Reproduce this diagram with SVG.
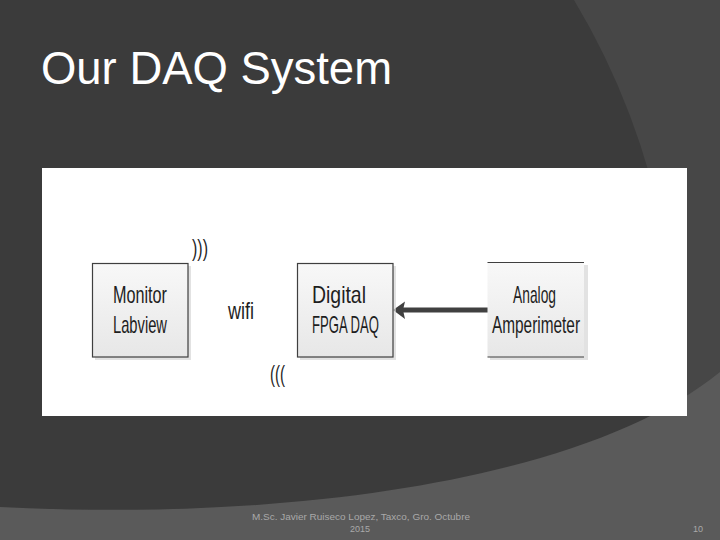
<svg xmlns="http://www.w3.org/2000/svg" width="720" height="540" viewBox="0 0 720 540">
  <defs>
    <linearGradient id="boxfill" x1="0" y1="0" x2="0" y2="1">
      <stop offset="0" stop-color="#f8f8f8"/>
      <stop offset="1" stop-color="#e7e7e7"/>
    </linearGradient>
    <style>
      .box { fill: url(#boxfill); }
      .edge { stroke: #3f3f3f; stroke-width: 1.2; fill: none; }
      .shadow { fill: #d6d6d6; opacity: 0.7; }
      .lbl { font-family: "Liberation Sans Narrow", "Liberation Sans", Arial, sans-serif; fill: #1e1e1e; font-size: 24px; }
      .foot { font-family: "Liberation Sans", Arial, sans-serif; fill: #a9a9a9; font-size: 9px; }
    </style>
  </defs>

  <!-- background -->
  <rect x="0" y="0" width="720" height="540" fill="#3b3b3b"/>
  <path d="M574,0 Q640,110 665,240 L700,540 L720,540 L720,0 Z" fill="#474747"/>
  <path d="M0,507 C300,522 590,478 720,372 L720,540 L0,540 Z" fill="#5a5a5a"/>

  <!-- title -->
  <text x="41" y="84" font-family="Liberation Sans, Arial, sans-serif" font-size="47" fill="#ffffff" textLength="351" lengthAdjust="spacingAndGlyphs">Our DAQ System</text>

  <!-- white panel -->
  <rect x="42" y="168" width="645" height="248" fill="#ffffff"/>

  <!-- connectors -->
  <g id="connectors">
    <line x1="489" y1="310" x2="402" y2="310" stroke="#404040" stroke-width="5"/>
    <polygon points="393,310 405,301.5 403,310 405,319" fill="#404040"/>
  </g>

  <!-- Monitor node -->
  <g id="node-monitor">
    <rect class="shadow" x="95" y="266" width="96" height="94"/>
    <rect class="box" x="92.5" y="263.5" width="95.5" height="93.5"/>
    <rect class="edge" x="92.5" y="263.5" width="95.5" height="93.5"/>
    <text class="lbl" x="113" y="303" textLength="54" lengthAdjust="spacingAndGlyphs">Monitor</text>
    <text class="lbl" x="113" y="333" textLength="54" lengthAdjust="spacingAndGlyphs">Labview</text>
  </g>

  <!-- wifi labels -->
  <g id="wifi">
    <text class="lbl" x="192" y="256" font-size="28" textLength="16" lengthAdjust="spacingAndGlyphs">)))</text>
    <text class="lbl" x="228" y="319" font-size="22" textLength="26" lengthAdjust="spacingAndGlyphs">wifi</text>
    <text class="lbl" x="270" y="382" font-size="25" textLength="15" lengthAdjust="spacingAndGlyphs">(((</text>
  </g>

  <!-- Digital node -->
  <g id="node-digital">
    <rect class="shadow" x="300" y="266" width="96" height="94"/>
    <rect class="box" x="297.5" y="263.5" width="95.5" height="93.5"/>
    <rect class="edge" x="297.5" y="263.5" width="95.5" height="93.5"/>
    <text class="lbl" x="312" y="303" textLength="54" lengthAdjust="spacingAndGlyphs">Digital</text>
    <text class="lbl" x="312" y="333" textLength="67" lengthAdjust="spacingAndGlyphs">FPGA DAQ</text>
  </g>

  <!-- Analog node -->
  <g id="node-analog">
    <rect class="shadow" x="490" y="265" width="98" height="95"/>
    <rect class="box" x="487.5" y="262.5" width="96.5" height="94.5"/>
    <line class="edge" x1="487.5" y1="262.5" x2="584" y2="262.5"/>
    <line class="edge" x1="487.5" y1="357" x2="584" y2="357"/>
    <text class="lbl" x="513" y="302.5" textLength="43" lengthAdjust="spacingAndGlyphs">Analog</text>
    <text class="lbl" x="492" y="332.5" textLength="88" lengthAdjust="spacingAndGlyphs">Amperimeter</text>
  </g>

  <!-- footer -->
  <text class="foot" x="361" y="519.5" text-anchor="middle" textLength="218" lengthAdjust="spacingAndGlyphs">M.Sc. Javier Ruiseco Lopez, Taxco, Gro. Octubre</text>
  <text class="foot" x="360" y="531.7" text-anchor="middle">2015</text>
  <text class="foot" x="703" y="531.7" text-anchor="end">10</text>
</svg>
